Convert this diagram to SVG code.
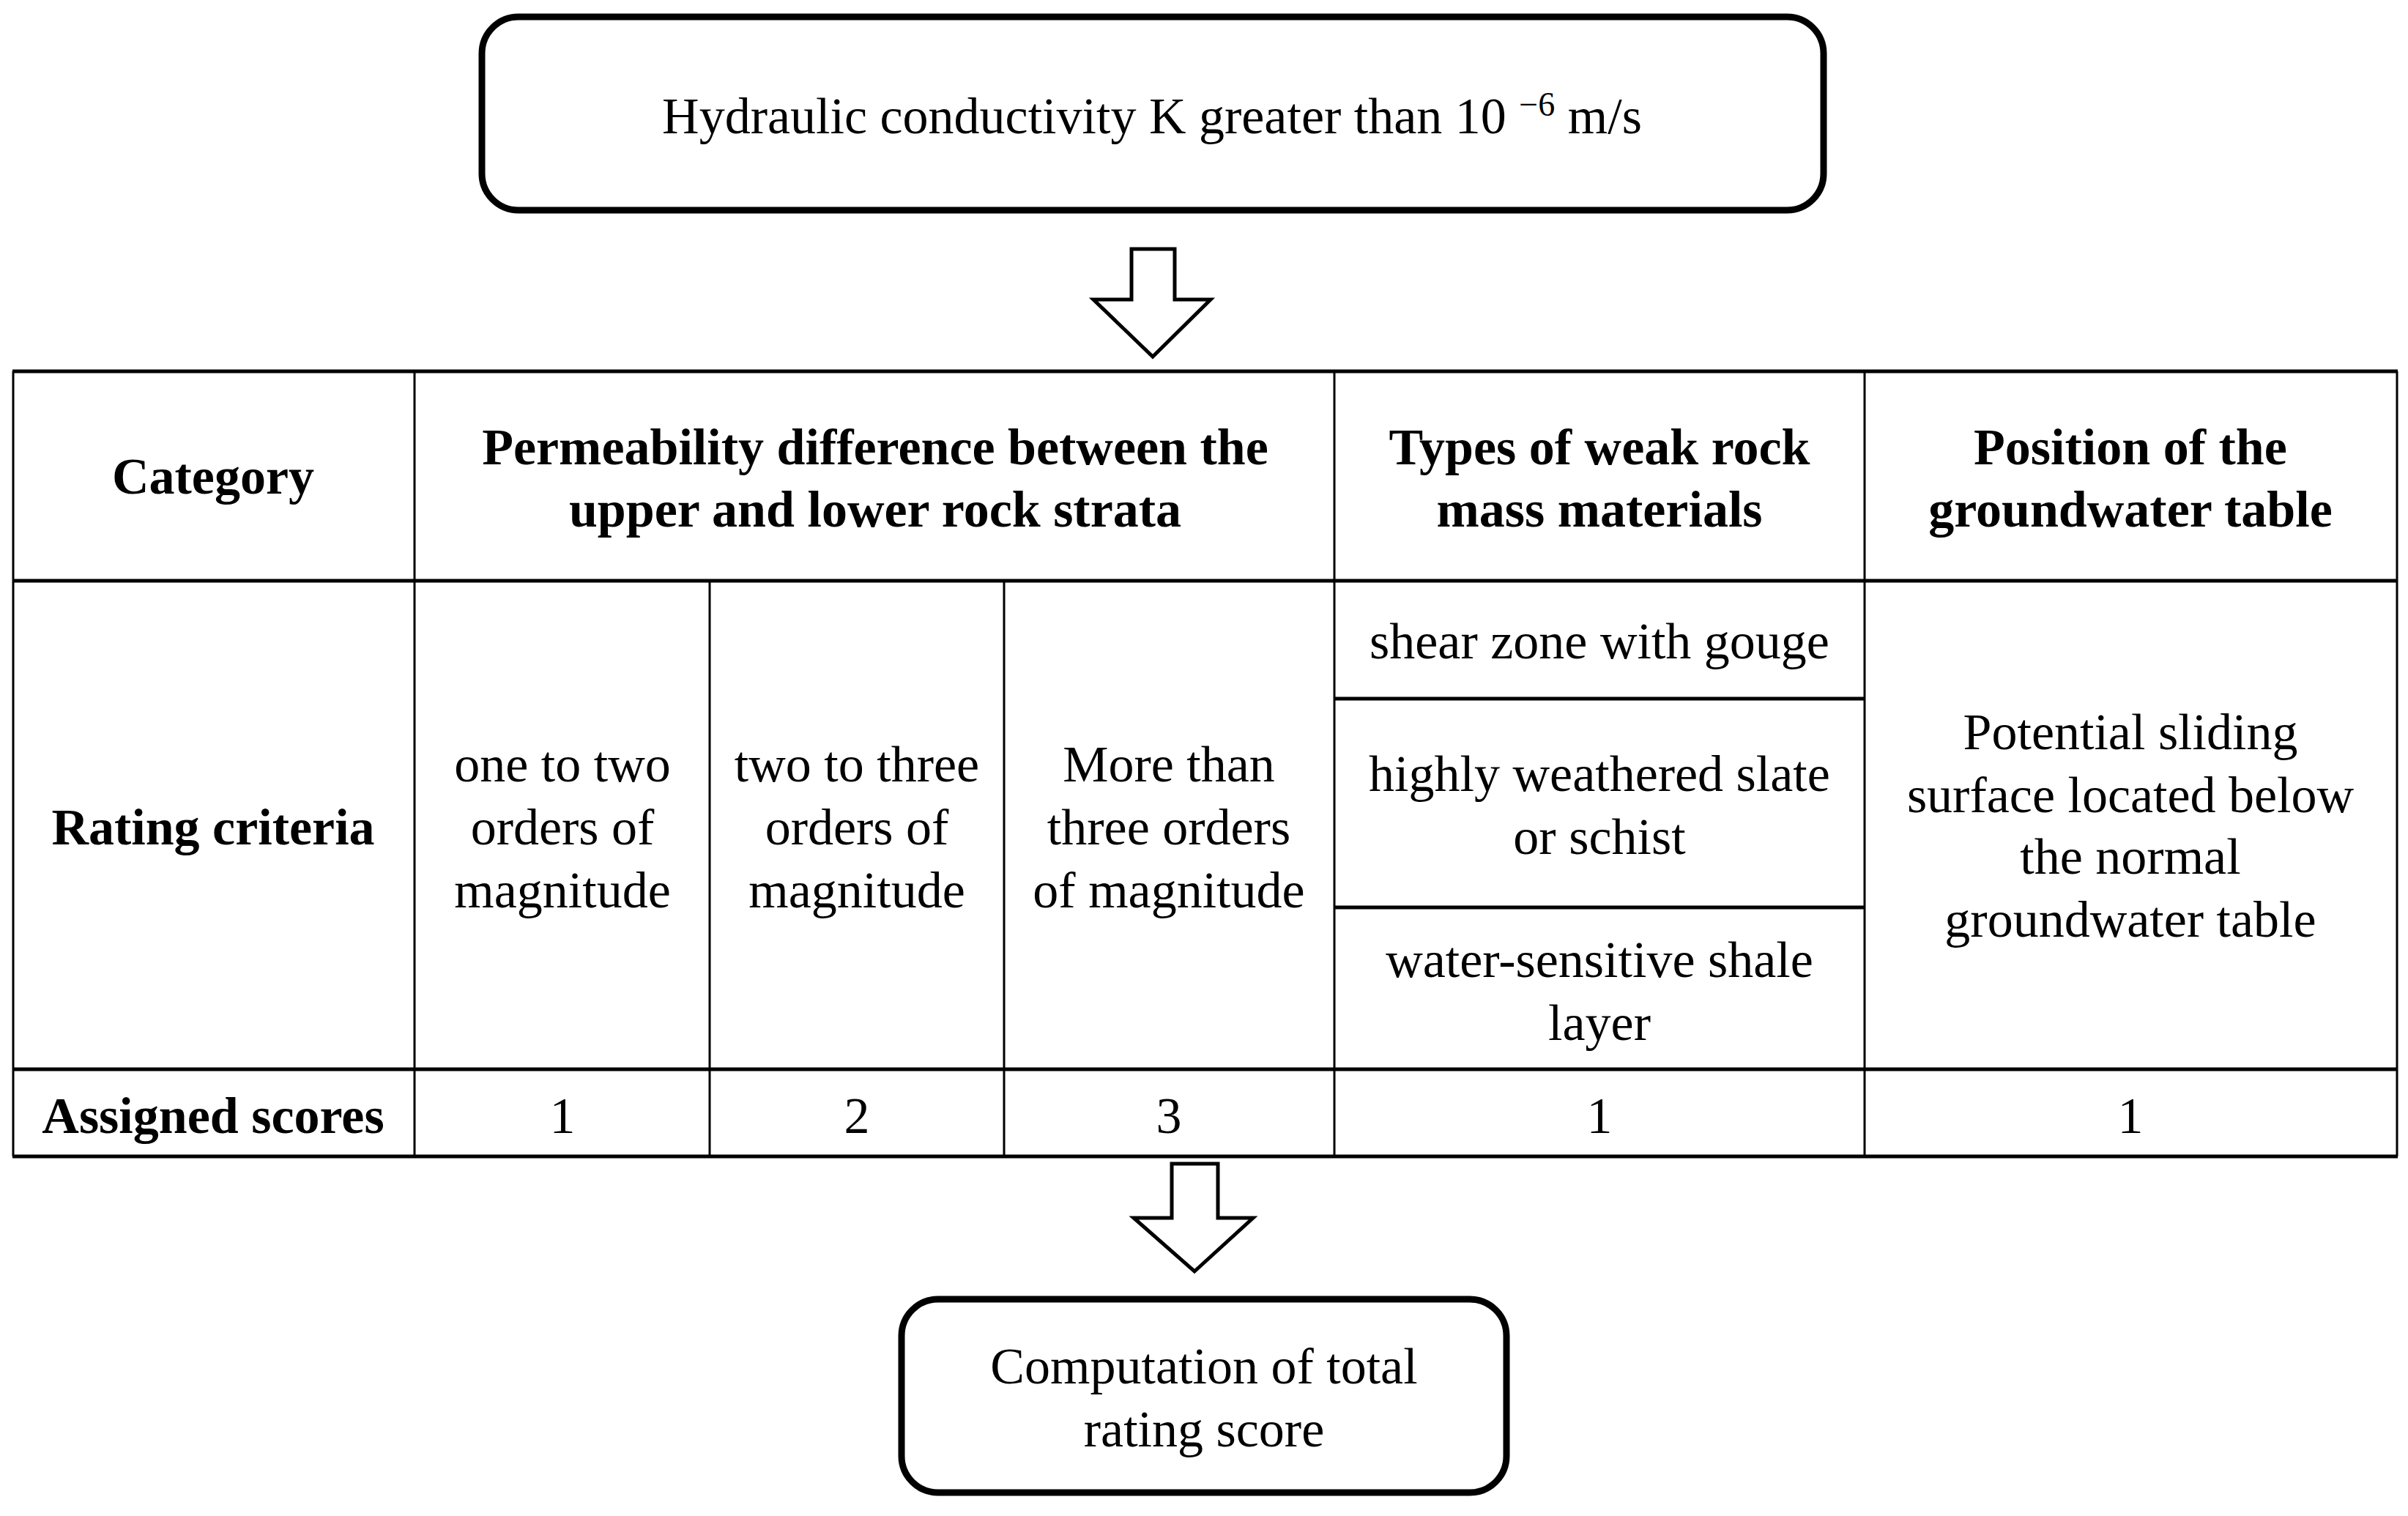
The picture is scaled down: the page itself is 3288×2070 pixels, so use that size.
<svg xmlns="http://www.w3.org/2000/svg" width="3288" height="2070" viewBox="0 0 3288 2070">
<style>
text{font-family:"Liberation Serif","Times New Roman",serif;font-size:70px;fill:#000;text-anchor:middle}
.b{font-weight:bold}
.box{fill:#fff;stroke:#000;stroke-width:9}
.arr{fill:#fff;stroke:#000;stroke-width:5;stroke-linejoin:miter}
.h{stroke:#000;stroke-width:5}
.v{stroke:#000;stroke-width:3}
</style>
<rect width="3288" height="2070" fill="#fff"/>
<g id="top">
<rect class="box" x="658" y="23" width="1832" height="264" rx="50"/>
<text x="1573" y="182">Hydraulic conductivity K greater than 10 <tspan dy="-24" font-size="46">−6</tspan><tspan dy="24"> m/s</tspan></text>
</g>
<g id="connectors">
<path class="arr" d="M1545 340H1604V409H1653L1574 487L1493 409H1545Z"/>
<path class="arr" d="M1600 1589H1663V1663H1711L1631 1736L1548 1663H1600Z"/>
</g>
<g id="table">
<line class="h" x1="17" y1="507" x2="3274" y2="507"/>
<line class="h" x1="17" y1="793" x2="3274" y2="793"/>
<line class="h" x1="17" y1="1460" x2="3274" y2="1460"/>
<line class="h" x1="17" y1="1579" x2="3274" y2="1579"/>
<line class="h" x1="1822" y1="954" x2="2546" y2="954"/>
<line class="h" x1="1822" y1="1239" x2="2546" y2="1239"/>
<line class="v" x1="18" y1="507" x2="18" y2="1579"/>
<line class="v" x1="566" y1="507" x2="566" y2="1579"/>
<line class="v" x1="969" y1="793" x2="969" y2="1579"/>
<line class="v" x1="1371" y1="793" x2="1371" y2="1579"/>
<line class="v" x1="1822" y1="507" x2="1822" y2="1579"/>
<line class="v" x1="2546" y1="507" x2="2546" y2="1579"/>
<line class="v" x1="3273" y1="507" x2="3273" y2="1579"/>
<text class="b" x="291" y="674">Category</text>
<text class="b" x="1195" y="634">Permeability difference between the</text>
<text class="b" x="1195" y="719">upper and lower rock strata</text>
<text class="b" x="2184" y="634">Types of weak rock</text>
<text class="b" x="2184" y="719">mass materials</text>
<text class="b" x="2909" y="634">Position of the</text>
<text class="b" x="2909" y="719">groundwater table</text>
<text class="b" x="291" y="1153">Rating criteria</text>
<text x="768" y="1067">one to two</text>
<text x="768" y="1153">orders of</text>
<text x="768" y="1239">magnitude</text>
<text x="1170" y="1067">two to three</text>
<text x="1170" y="1153">orders of</text>
<text x="1170" y="1239">magnitude</text>
<text x="1596" y="1067">More than</text>
<text x="1596" y="1153">three orders</text>
<text x="1596" y="1239">of magnitude</text>
<text x="2184" y="899">shear zone with gouge</text>
<text x="2184" y="1080">highly weathered slate</text>
<text x="2184" y="1166">or schist</text>
<text x="2184" y="1334">water-sensitive shale</text>
<text x="2184" y="1420">layer</text>
<text x="2909" y="1023">Potential sliding</text>
<text x="2909" y="1109">surface located below</text>
<text x="2909" y="1193">the normal</text>
<text x="2909" y="1279">groundwater table</text>
<text class="b" x="291" y="1547">Assigned scores</text>
<text x="768" y="1547">1</text>
<text x="1170" y="1547">2</text>
<text x="1596" y="1547">3</text>
<text x="2184" y="1547">1</text>
<text x="2909" y="1547">1</text>
</g>
<g id="bottom">
<rect class="box" x="1231" y="1774" width="826" height="264" rx="50"/>
<text x="1644" y="1889">Computation of total</text>
<text x="1644" y="1975">rating score</text>
</g>
</svg>
